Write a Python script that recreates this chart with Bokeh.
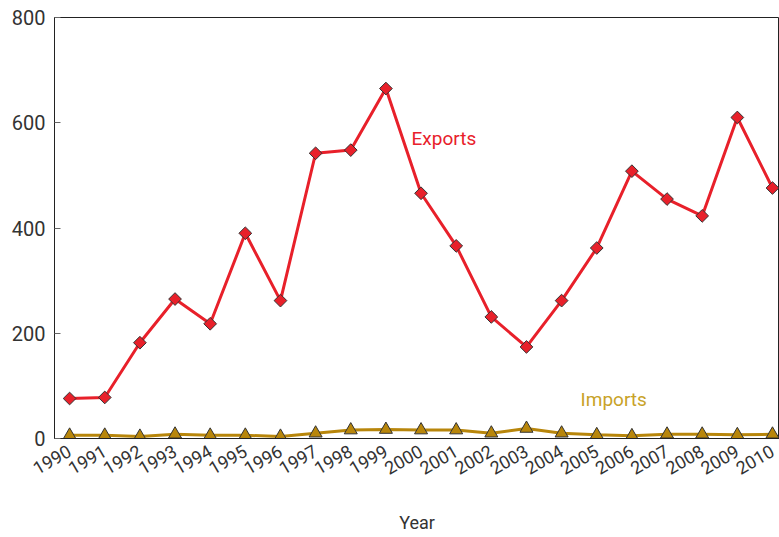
from bokeh.plotting import figure
from bokeh.embed import file_html
from bokeh.resources import INLINE
from bokeh.models import Range1d, FixedTicker, ColumnDataSource
from bokeh.core.properties import value
import math

years = list(range(1990, 2011))
exports = [76, 78, 182, 265, 218, 390, 262, 542, 548, 665, 466, 366, 231, 174, 262, 362, 508, 455, 423, 610, 476]
imports = [6, 6, 4, 8, 6, 6, 4, 10, 16, 17, 16, 16, 10, 19, 10, 7, 5, 8, 8, 7, 8]
y_ticks = [0, 200, 400, 600, 800]

FONT = "Roboto"
RED = "#e8202a"
GOLD = "#b8860b"

p = figure(width=779, height=535, output_backend="svg", toolbar_location=None,
           x_range=Range1d(1989.57, 2010.2), y_range=Range1d(0, 800),
           min_border_left=54, min_border_top=17, min_border_right=0, min_border_bottom=10)

p.outline_line_color = "#222222"
p.outline_line_width = 1
p.xgrid.visible = False
p.ygrid.visible = False

p.yaxis.ticker = FixedTicker(ticks=y_ticks)
p.yaxis.major_tick_in = 6
p.yaxis.major_tick_out = 0
p.yaxis.major_tick_line_color = "#666666"
p.yaxis.minor_tick_line_color = None
p.yaxis.axis_line_color = "#222222"
p.yaxis.major_label_text_font = FONT
p.yaxis.major_label_text_font_size = "20px"
p.yaxis.major_label_text_color = "#333333"
p.yaxis.major_label_standoff = 9

p.xaxis.ticker = FixedTicker(ticks=years)
p.xaxis.major_tick_line_color = None
p.xaxis.minor_tick_line_color = None
p.xaxis.axis_line_color = "#222222"
p.xaxis.major_label_orientation = math.pi / 6
p.xaxis.major_label_text_font = FONT
p.xaxis.major_label_text_font_size = "18px"
p.xaxis.major_label_text_color = "#333333"
p.xaxis.major_label_standoff = 5
p.xaxis.axis_label = "Year"
p.xaxis.axis_label_text_font = FONT
p.xaxis.axis_label_text_font_size = "18px"
p.xaxis.axis_label_text_font_style = "normal"
p.xaxis.axis_label_text_color = "#333333"
p.xaxis.axis_label_standoff = 28

src = ColumnDataSource(dict(year=years, exports=exports, imports=imports))

p.line("year", "imports", source=src, line_color=GOLD, line_width=3)
p.scatter("year", "imports", source=src, marker="triangle", size=13,
          fill_color=GOLD, line_color="#333333", line_width=1)

p.line("year", "exports", source=src, line_color=RED, line_width=3)
p.scatter("year", "exports", source=src, marker="square", size=9, angle=math.pi / 4,
          fill_color=RED, line_color="#333333", line_width=1)

p.text(x=[1999.73], y=[570], text=["Exports"], text_color=RED,
       text_font=value(FONT), text_font_size="19px", text_baseline="middle")
p.text(x=[2004.54], y=[74], text=["Imports"], text_color="#c8a228",
       text_font=value(FONT), text_font_size="19px", text_baseline="middle")

open("out.html", "w").write(file_html(p, INLINE))
